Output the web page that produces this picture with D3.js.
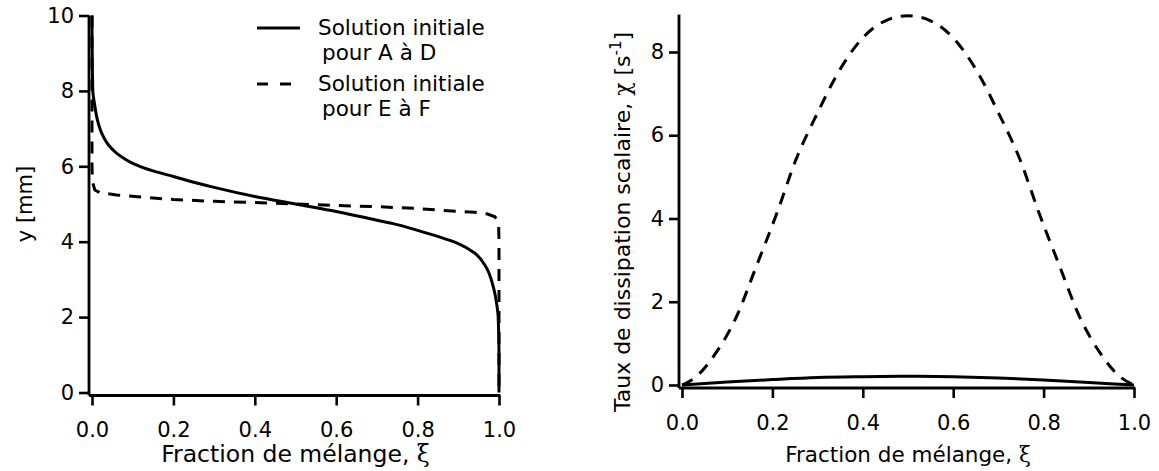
<!DOCTYPE html>
<html><head><meta charset="utf-8">
<script src="https://cdn.jsdelivr.net/npm/d3@7"></script>
<style>
html,body{margin:0;padding:0;background:#fff;}
svg{display:block;}
text{font-family:"DejaVu Sans",sans-serif;fill:#000;}
</style></head>
<body>
<svg id="chart" width="1159" height="471"></svg>
<script>
// ---- data ----
// Left panel: y [mm] vs mixture fraction ξ
const solidLeftXi = [0, 0, 0.0005, 0.002, 0.007, 0.014, 0.025, 0.04, 0.06, 0.08, 0.1, 0.15, 0.2, 0.26, 0.3, 0.4, 0.5, 0.6, 0.7, 0.74, 0.8, 0.855, 0.9, 0.94, 0.968, 0.986, 0.995, 0.998, 1.0, 1.0];
const solidLeftY  = [10, 9.6, 9.0, 8.0, 7.6, 7.2, 6.85, 6.57, 6.35, 6.2, 6.08, 5.88, 5.73, 5.55, 5.44, 5.2, 5.0, 4.8, 4.57, 4.48, 4.3, 4.12, 3.95, 3.7, 3.33, 2.8, 2.3, 2.0, 1.0, 0];
const dashLeftXi  = [0, 0, 0.001, 0.007, 0.02, 0.06, 0.15, 0.2, 0.3, 0.4, 0.5, 0.6, 0.7, 0.8, 0.85, 0.94, 0.97, 0.99, 0.999, 1.0, 1.0];
const dashLeftY   = [10, 6.0, 5.6, 5.37, 5.3, 5.24, 5.16, 5.12, 5.07, 5.04, 5.0, 4.96, 4.93, 4.88, 4.84, 4.78, 4.74, 4.66, 4.5, 4.0, 0];
// Right panel: scalar dissipation rate χ [s^-1] vs ξ
const dashRightXi  = [0, 0.03, 0.075, 0.12, 0.164, 0.21, 0.252, 0.30, 0.34, 0.4, 0.45, 0.5, 0.55, 0.6, 0.66, 0.70, 0.748, 0.79, 0.836, 0.88, 0.925, 0.97, 1.0];
const dashRightChi = [0, 0.19, 0.77, 1.63, 2.84, 4.13, 5.41, 6.54, 7.4, 8.34, 8.75, 8.87, 8.75, 8.34, 7.4, 6.54, 5.41, 4.13, 2.84, 1.63, 0.77, 0.19, 0];
const solidRightXi  = [0, 0.1, 0.2, 0.3, 0.4, 0.5, 0.6, 0.7, 0.8, 0.9, 1.0];
const solidRightChi = [0, 0.07, 0.13, 0.18, 0.2, 0.21, 0.2, 0.17, 0.12, 0.06, 0];
// ticks & labels
const xTicks = [0, 0.2, 0.4, 0.6, 0.8, 1.0];
const yTicksLeft = [0, 2, 4, 6, 8, 10];
const yTicksRight = [0, 2, 4, 6, 8];
const legendLabels = [["Solution initiale", "pour A à D"], ["Solution initiale", "pour E à F"]];

// ---- layout ----
const svg = d3.select("#chart");
const DASH = "12,9";
const LW = 3;

function panel(o) {
  const g = svg.append("g");
  g.append("line").attr("x1", o.yAxisX).attr("x2", o.yAxisX)
    .attr("y1", o.y(o.yTop)).attr("y2", o.xAxisY)
    .attr("stroke", "#000").attr("stroke-width", 2.8);
  g.append("line").attr("x1", o.yAxisX).attr("x2", o.x(1) + 1.4)
    .attr("y1", o.xAxisY).attr("y2", o.xAxisY)
    .attr("stroke", "#000").attr("stroke-width", 2.8);
  const ax = g.append("g").attr("transform", `translate(0,${o.xAxisY})`)
    .call(d3.axisBottom(o.x).tickValues(xTicks).tickFormat(d3.format(".1f"))
      .tickSize(10).tickPadding(17).tickSizeOuter(0));
  const ay = g.append("g").attr("transform", `translate(${o.yAxisX},0)`)
    .call(d3.axisLeft(o.y).tickValues(o.yTicks).tickFormat(d3.format("d"))
      .tickSize(10).tickPadding(5).tickSizeOuter(0));
  [ax, ay].forEach(a => {
    a.select(".domain").remove();
    a.selectAll(".tick line").attr("stroke", "#000").attr("stroke-width", 2.6);
    a.selectAll(".tick text").attr("font-family", "DejaVu Sans").attr("font-size", 21).attr("fill", "#000");
  });
  return g;
}

// Left panel
const xL = d3.scaleLinear().domain([0, 1]).range([92, 499]);
const yL = d3.scaleLinear().domain([0, 10]).range([392.5, 15.5]);
const gL = panel({x: xL, y: yL, yTop: 10, yAxisX: 89, xAxisY: 395.5, yTicks: yTicksLeft});

const lineL = d3.line().x(d => xL(d[0])).y(d => yL(d[1]));
gL.append("path").datum(dashLeftXi.map((v, i) => [v, dashLeftY[i]]))
  .attr("d", lineL).attr("fill", "none").attr("stroke", "#000")
  .attr("stroke-width", LW).attr("stroke-dasharray", DASH);
gL.append("path").datum(solidLeftXi.map((v, i) => [v, solidLeftY[i]]))
  .attr("d", lineL.curve(d3.curveMonotoneY)).attr("fill", "none").attr("stroke", "#000")
  .attr("stroke-width", LW);

gL.append("text").attr("x", (xL(0) + xL(1)) / 2).attr("y", 462)
  .attr("text-anchor", "middle").attr("font-size", 23.5)
  .text("Fraction de mélange,  ")
  .append("tspan").attr("font-family", "DejaVu Serif").text("ξ");
gL.append("text").attr("transform", `translate(32,${(yL(0) + yL(10)) / 2}) rotate(-90)`)
  .attr("text-anchor", "middle").attr("font-size", 21).text("y [mm]");

// Legend
const leg = svg.append("g");
legendLabels.forEach((lab, i) => {
  const y0 = 28 + i * 56;
  leg.append("line").attr("x1", 257).attr("x2", i === 0 ? 300 : 292)
    .attr("y1", y0).attr("y2", y0).attr("stroke", "#000").attr("stroke-width", LW)
    .attr("stroke-dasharray", i === 0 ? null : "11,12");
  leg.append("text").attr("x", 318).attr("y", y0 + 7).attr("font-size", 21.5).text(lab[0]);
  leg.append("text").attr("x", 322).attr("y", y0 + 32).attr("font-size", 21.5).text(lab[1]);
});

// Right panel
const xR = d3.scaleLinear().domain([0, 1]).range([682, 1134]);
const yR = d3.scaleLinear().domain([0, 8]).range([385, 52]);
const gR = panel({x: xR, y: yR, yTop: 8.9, yAxisX: 679, xAxisY: 388, yTicks: yTicksRight});

const lineR = d3.line().x(d => xR(d[0])).y(d => yR(d[1])).curve(d3.curveMonotoneX);
gR.append("path").datum(dashRightXi.map((v, i) => [v, dashRightChi[i]]))
  .attr("d", lineR).attr("fill", "none").attr("stroke", "#000")
  .attr("stroke-width", LW).attr("stroke-dasharray", DASH);
gR.append("path").datum(solidRightXi.map((v, i) => [v, solidRightChi[i]]))
  .attr("d", lineR).attr("fill", "none").attr("stroke", "#000")
  .attr("stroke-width", LW);

gR.append("text").attr("x", (xR(0) + xR(1)) / 2).attr("y", 462)
  .attr("text-anchor", "middle").attr("font-size", 21.5)
  .text("Fraction de mélange,  ")
  .append("tspan").attr("font-family", "DejaVu Serif").text("ξ");
const yl = gR.append("text").attr("transform", `translate(630,222) rotate(-90)`)
  .attr("text-anchor", "middle").attr("font-size", 22);
yl.append("tspan").text("Taux de dissipation scalaire, ");
yl.append("tspan").attr("font-family", "DejaVu Serif").text("χ");
yl.append("tspan").text("  [s");
yl.append("tspan").attr("dy", -9).attr("font-size", 15).text("-1");
yl.append("tspan").attr("dy", 9).text("]");
</script>
</body></html>
